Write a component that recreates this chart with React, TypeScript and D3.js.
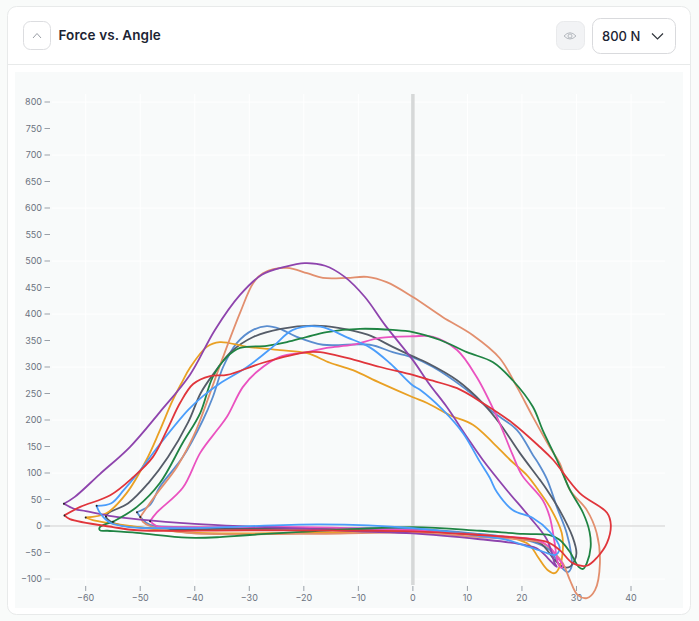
import React from "react";
import * as d3 from "d3";

type P = [number, number];

const yTickValues = [-100,-50,0,50,100,150,200,250,300,350,400,450,500,550,600,650,700,750,800];
const xTickValues = [-60,-50,-40,-30,-20,-10,0,10,20,30,40];
const gridY = [-100,0,100,200,300,400,500,600,700,800];
const titleText = "Force vs. Angle";
const selectText = "800 N";

const orange: P[] = [[-60,16],[-56.2,24],[-52.5,62],[-48.9,124],[-46.5,178],[-44.1,236],[-42.3,272],[-40.9,298],[-37.8,338],[-35.4,347],[-30.4,338],[-24.4,332],[-19.4,326],[-15.2,308],[-11,294],[-6,270],[0,243],[2.6,232],[6.8,209],[11,191],[14.7,157],[17.8,125],[20.9,96],[22.7,72],[25.1,36],[27.3,-13],[27.5,-45],[26.9,-77],[26,-89],[24.7,-83],[22.9,-58],[21.4,-36],[18.3,-23],[12.3,-17],[0,-10],[-20.7,-13],[-41.4,-12],[-56,6],[-58.7,11],[-60,16]];
const salmon: P[] = [[-50,17],[-46.9,62],[-43.3,111],[-40.3,168],[-39,200],[-34.8,319],[-31.7,402],[-29.3,458],[-27.5,477],[-23.1,487],[-19.4,477],[-16.5,468],[-12.1,468],[-8.4,470],[-4.8,460],[0,432],[5.5,394],[11,360],[15.9,317],[19.1,262],[22,206],[25.1,149],[26.9,119],[28.8,68],[31.9,30],[33.7,-13],[34.3,-70],[33.4,-121],[31.9,-136],[30.2,-130],[28.8,-102],[27.5,-70],[26,-51],[23.8,-32],[20.2,-26],[12.3,-21],[0,-13],[-20.7,-15],[-41.4,-13],[-48.2,0],[-49.5,8],[-50,17]];
const steel: P[] = [[-50.6,26],[-48.2,40],[-46.4,74],[-42.2,130],[-38.5,200],[-36.7,243],[-34.8,300],[-32.3,345],[-29.3,370],[-26.8,377],[-24.4,372],[-21.3,357],[-16.5,342],[-7.9,342],[-3.7,328],[0,318],[3.7,300],[9.2,262],[14.7,215],[19.1,181],[22,134],[22.9,120],[24.6,88],[26.4,36],[28.2,-13],[29,-51],[29.1,-77],[28.4,-87],[26.9,-74],[25.1,-45],[22,-30],[17.2,-21],[12.3,-15],[0,-5],[-30,-5],[-41.4,-2],[-48.2,2],[-49.7,14],[-50.6,26]];
const slate: P[] = [[-56.3,18],[-55.9,24],[-52.2,43],[-48.5,81],[-44.9,130],[-41.2,196],[-38.9,251],[-36.5,288],[-33.4,328],[-29.2,357],[-24.2,372],[-18.1,378],[-13.7,374],[-8.3,361],[-3.7,338],[0,320],[2.6,308],[8.1,275],[12.8,232],[15.9,194],[19.6,138],[23.3,87],[24.6,68],[26.9,30],[29.3,-21],[30,-51],[29.7,-64],[28.8,-77],[27.5,-77],[26,-64],[23.3,-32],[18.3,-23],[12.3,-17],[0,-8],[-20,-5],[-40,-6],[-44.5,-6],[-53.8,2],[-56,13],[-56.3,18]];
const green: P[] = [[-55,8],[-50.6,36],[-46.4,81],[-42.2,157],[-39,213],[-36.7,281],[-34.1,319],[-31.7,336],[-26.8,340],[-23.1,347],[-19.4,357],[-15.8,366],[-9.7,372],[-3.7,370],[0,366],[5,351],[9.9,328],[14.7,309],[18.3,275],[22,225],[23.8,181],[26.4,125],[28.8,68],[31.2,25],[32.4,-11],[32.6,-40],[31.9,-70],[31.2,-81],[30.4,-77],[28.8,-49],[26.9,-26],[25.1,-17],[20.2,-15],[12.3,-9],[0,-2],[-29.9,-17],[-35.4,-21],[-41.4,-22],[-50.6,-13],[-56,-9],[-57.4,-8],[-57.4,-2],[-55,8]];
const purple: P[] = [[-64,42],[-62,55],[-57.4,98],[-51.9,149],[-46.4,215],[-40.9,285],[-36.3,370],[-31.7,436],[-27.7,474],[-23.5,489],[-19.8,496],[-16.1,491],[-12.5,470],[-8.8,432],[-5.1,379],[0,313],[3,268],[6.2,225],[9.9,168],[12.8,125],[17.2,68],[21.4,17],[24.6,-26],[26,-70],[26.4,-77],[26,-74],[24.7,-60],[22.7,-42],[18.3,-32],[12.3,-25],[0,-14],[-10,-10],[-20,-5],[-30,-1],[-40,4],[-50,12],[-55,18],[-60,28],[-62,32],[-64,42]];
const blue: P[] = [[-58,38],[-55.3,43],[-53,68],[-50.4,100],[-46.2,157],[-41.2,219],[-38.5,245],[-35.4,269],[-30.4,300],[-25.7,338],[-22,370],[-17,376],[-12.1,356],[-7.9,337],[-4.2,307],[0,265],[1.3,257],[5.5,219],[9.2,175],[12.3,121],[14.1,91],[15.4,64],[18.3,30],[22,15],[25.1,-11],[26.9,-40],[26.6,-51],[26,-55],[24.6,-51],[21.4,-40],[17.2,-26],[12.3,-19],[0,-4],[-17,3],[-41.4,-4],[-51.9,-2],[-55.5,6],[-57.4,25],[-58,38]];
const pink: P[] = [[-48.2,9],[-46.9,26],[-42.2,72],[-39,138],[-35.9,181],[-34.1,206],[-31.2,262],[-28.6,291],[-24.4,319],[-19.4,328],[-15.8,336],[-11,342],[-6,355],[0,358],[3.7,357],[8.1,332],[11.7,281],[15.4,206],[18.3,134],[20,96],[23.8,49],[25.1,17],[26,-32],[26.6,-70],[27.3,-79],[27.5,-74],[26.4,-58],[25.1,-40],[22.7,-26],[18.3,-21],[12.3,-17],[0,-8],[-20.7,-2],[-41.4,-2],[-47,0],[-48.2,9]];
const red: P[] = [[-63.9,20],[-61,36],[-55.5,58],[-51.3,92],[-47.7,130],[-45.1,181],[-42.7,232],[-40.3,268],[-37.2,283],[-34.1,285],[-27.5,308],[-19.4,328],[-17,328],[-12.1,317],[-6,300],[0,285],[2.6,277],[8.1,260],[12.8,232],[18.3,194],[23.3,149],[25.7,125],[30.6,62],[35.6,25],[36.3,2],[35.6,-32],[33.9,-58],[31.9,-75],[29.3,-70],[26.9,-45],[24.6,-30],[20.2,-23],[12.3,-17],[0,-10],[-29.9,-8],[-50.6,-8],[-55,-2],[-62.9,13],[-63.9,20]];

const seriesData: P[][] = [steel, slate, orange, salmon, pink, purple, green, blue, red];
const seriesColors = ["#5a8dcf", "#555c68", "#e9a023", "#e28f6e", "#ea52c0", "#8e44ad", "#1f8443", "#4a9dfb", "#e0353b"];

const W = 699, H = 621;
const x = d3.scaleLinear().domain([-60, 40]).range([85.7, 631]);
const y = d3.scaleLinear().domain([-100, 800]).range([579, 102]);
const line = d3.line<P>().x(d => x(d[0])).y(d => y(d[1])).curve(d3.curveCatmullRom.alpha(0.5));
const minus = (v: number) => (v < 0 ? "\u2212" + Math.abs(v) : String(v));
const axisFont = "Inter, 'Noto Sans', sans-serif";

export default function App() {
  return (
    <svg width={W} height={H} style={{ position: "absolute", left: 0, top: 0, display: "block" }}>
      <rect width={W} height={H} fill="#f9fbfa" />
      <rect x={7.5} y={6.5} width={683} height={608} rx={9} fill="#fff" stroke="#e8eaea" />
      <line x1={8} x2={690} y1={64.5} y2={64.5} stroke="#e8eaea" />
      <rect x={15} y={72} width={668} height={536} fill="#f8fafa" />

      <rect x={23.5} y={21.5} width={27} height={28} rx={7} fill="#fff" stroke="#dcdde0" />
      <path d="M33 38 L37 33.5 L41 38" fill="none" stroke="#9a9ea6" strokeWidth={1} />
      <text x={58.5} y={40} fontFamily="Inter, sans-serif" fontWeight={600} fontSize={13.5} letterSpacing={0.1} fill="#1c2433">{titleText}</text>

      <rect x={556.5} y={21.5} width={28} height={28} rx={7} fill="#f2f3f5" stroke="#e9eaec" />
      <path d="M564 36 Q570 29.5 576 36 Q570 42 564 36 Z" fill="none" stroke="#b5b9bf" strokeWidth={1} />
      <circle cx={570} cy={36} r={2} fill="none" stroke="#b5b9bf" strokeWidth={1} />
      <rect x={592.5} y={18.5} width={83} height={35} rx={8} fill="#fff" stroke="#d9dadd" />
      <text x={602} y={40.5} fontFamily="Inter, sans-serif" fontWeight={500} fontSize={13} fill="#1c2433">{selectText}</text>
      <path d="M652 33.5 L657.5 39 L663 33.5" fill="none" stroke="#30343c" strokeWidth={1.2} />

      {xTickValues.map(v => (
        <line key={"gx" + v} x1={x(v)} x2={x(v)} y1={94} y2={585} stroke="#ffffff" />
      ))}
      {gridY.map(v => (
        <line key={"gy" + v} x1={52} x2={665} y1={y(v)} y2={y(v)} stroke="#ffffff" />
      ))}

      <line x1={50} x2={665} y1={y(0)} y2={y(0)} stroke="#dcdcdc" strokeWidth={1.6} />
      <line x1={x(0)} x2={x(0)} y1={94} y2={585} stroke="#d6d8d8" strokeWidth={3.5} />

      {yTickValues.map(v => (
        <g key={"yt" + v}>
          <line x1={44.5} x2={50} y1={y(v)} y2={y(v)} stroke="#9aa0a8" />
          <text x={42} y={y(v)} dy="0.34em" textAnchor="end" fontFamily={axisFont} fontSize={9} fill="#6b7280">{minus(v)}</text>
        </g>
      ))}
      {xTickValues.map(v => (
        <g key={"xt" + v}>
          <line x1={x(v)} x2={x(v)} y1={586} y2={591} stroke="#9aa0a8" />
          <text x={x(v)} y={601} textAnchor="middle" fontFamily={axisFont} fontSize={9} fill="#6b7280">{minus(v)}</text>
        </g>
      ))}

      {seriesData.map((s, i) => (
        <path key={i} d={line(s) ?? ""} fill="none" stroke={seriesColors[i]} strokeWidth={1.8} strokeLinejoin="round" />
      ))}
      {seriesData.map((s, i) => (
        <circle key={"d" + i} cx={x(s[0][0])} cy={y(s[0][1])} r={1} fill="#222" />
      ))}
    </svg>
  );
}
